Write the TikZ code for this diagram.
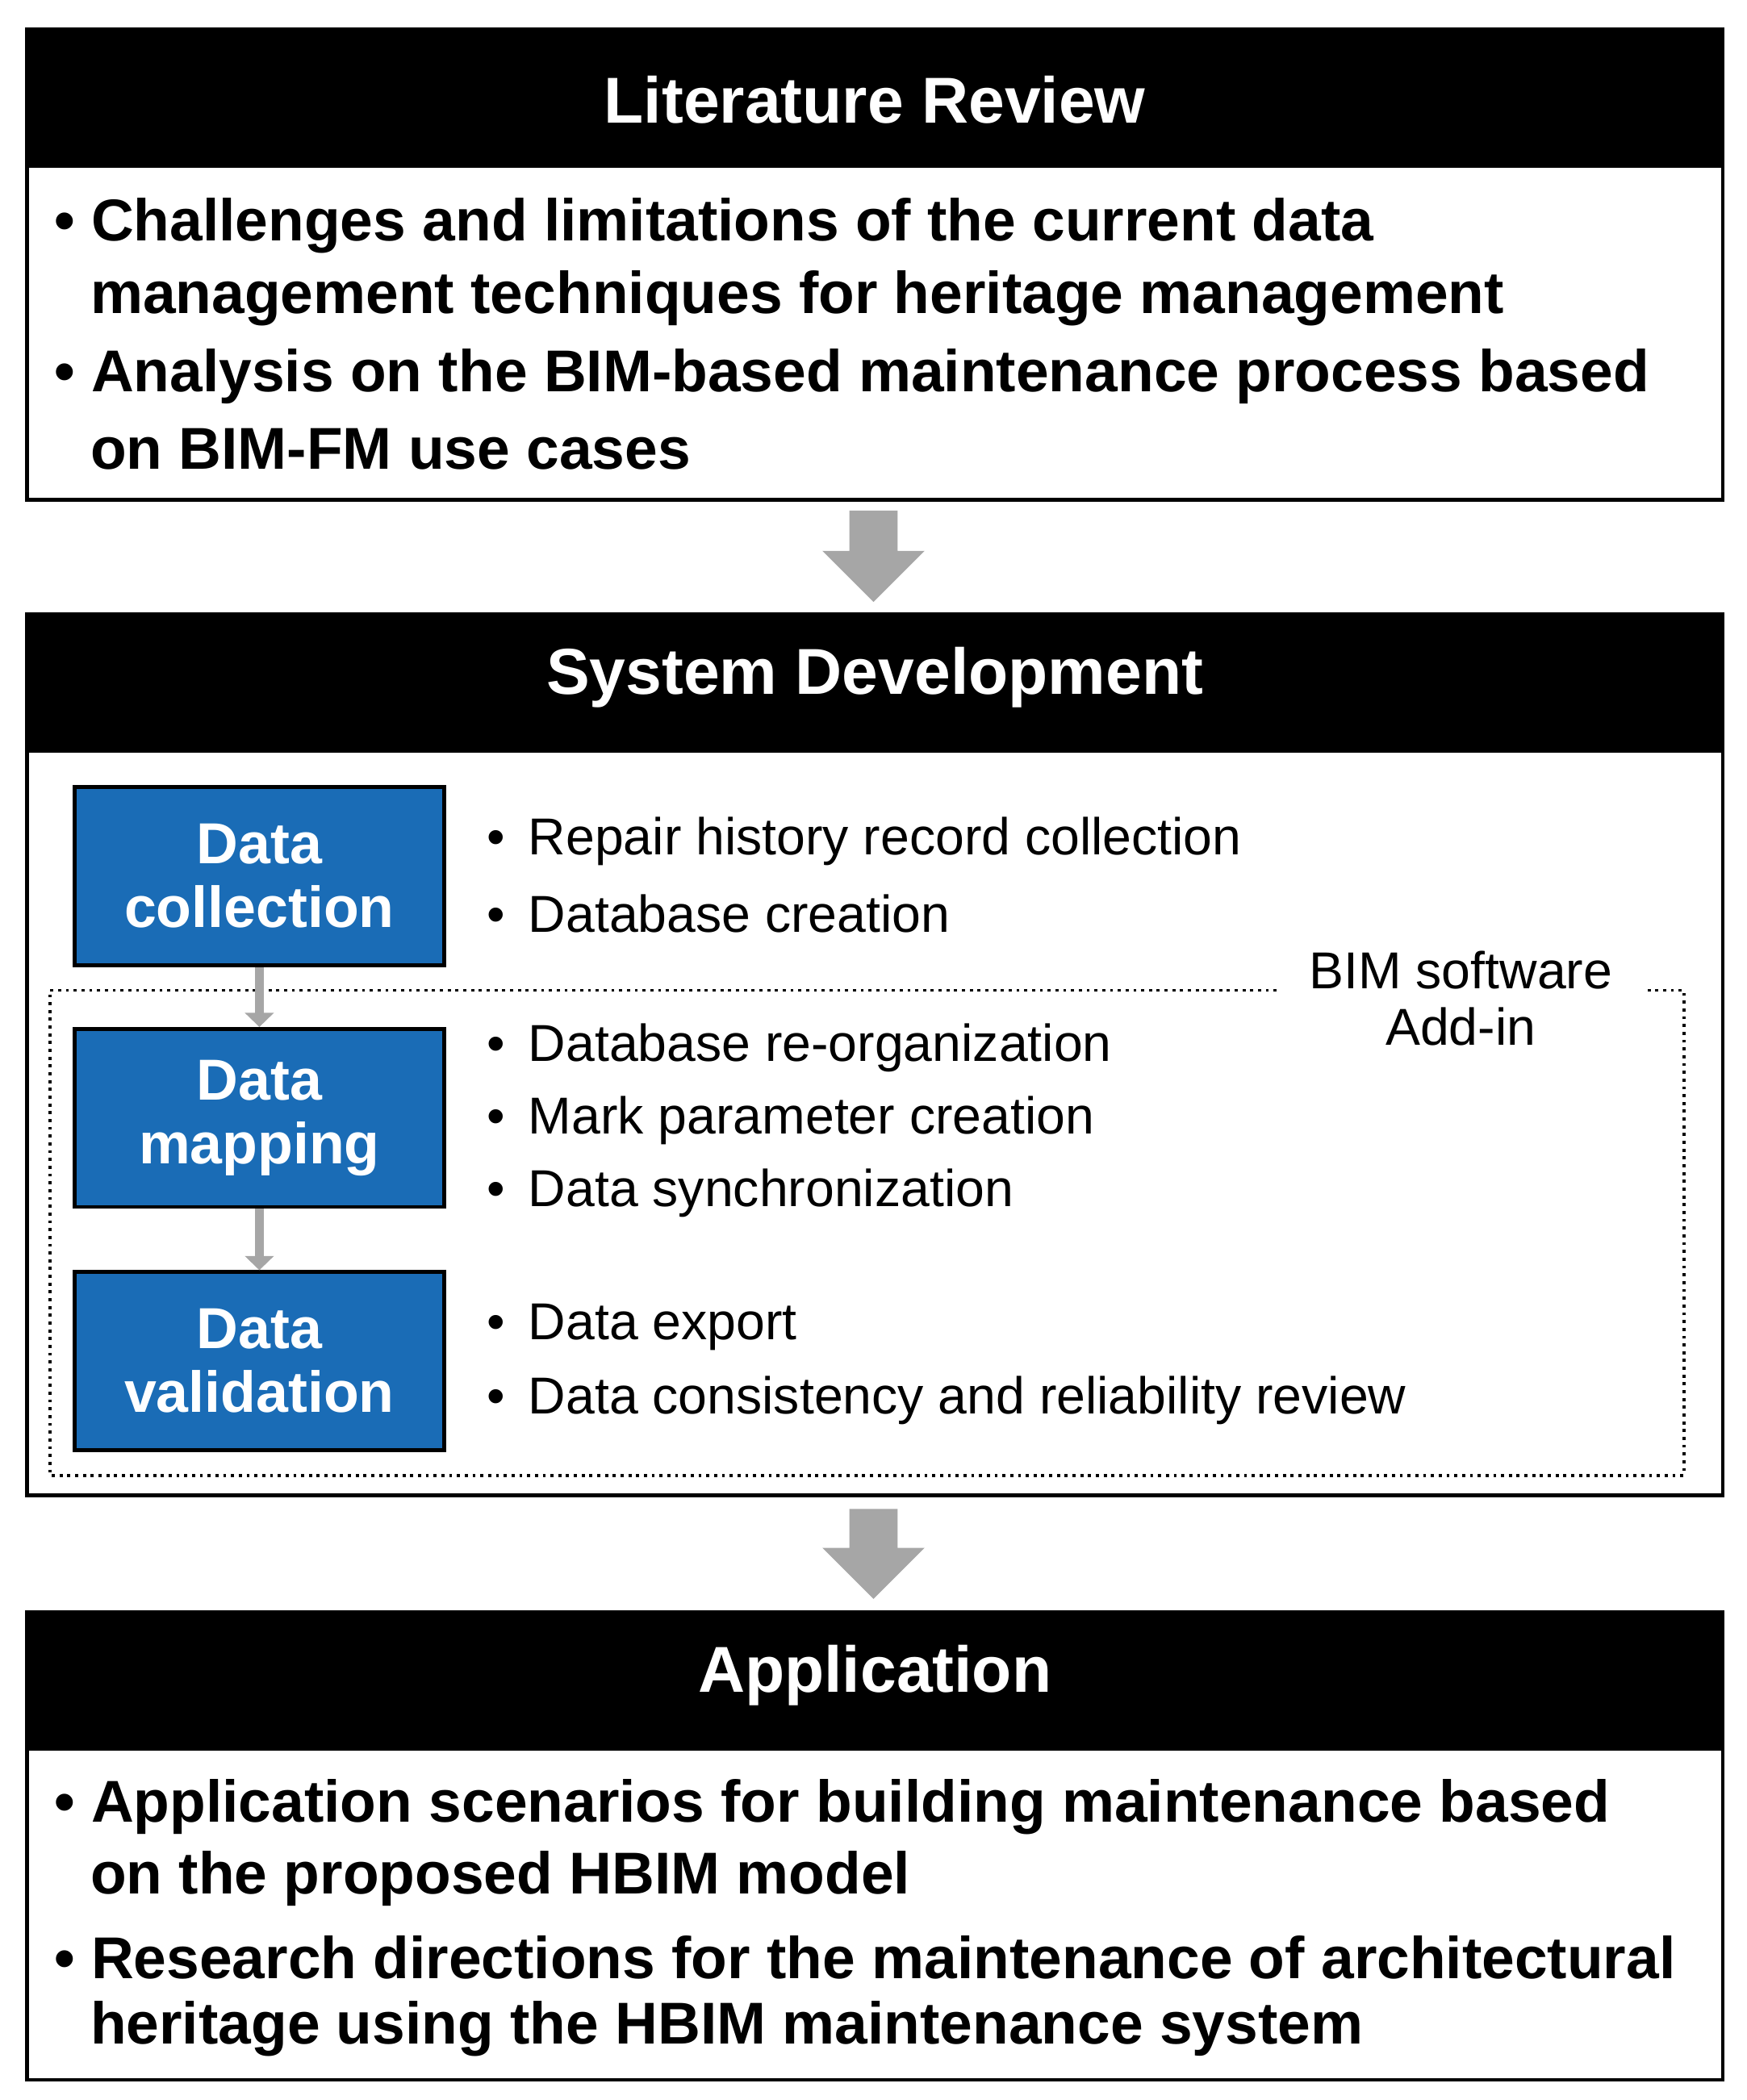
\documentclass[tikz,border=0pt]{standalone}
\usepackage{fontspec}
\setmainfont{Liberation Sans}
\usetikzlibrary{arrows.meta}
\definecolor{bbox}{RGB}{26,108,182}
\begin{document}
\begin{tikzpicture}[x=0.02cm,y=-0.02cm,
  frame/.style={draw=black,line width=1.6pt},
  head/.style={fill=black},
  htxt/.style={text=white,font=\fontsize{27.5}{31}\selectfont\bfseries},
  btxt/.style={anchor=west,inner sep=0pt,font=\fontsize{25}{29}\selectfont\bfseries},
  rtxt/.style={anchor=west,inner sep=0pt,font=\fontsize{22}{25}\selectfont},
  blue/.style={fill=bbox,draw=black,line width=1.6pt,text=white,align=center,inner sep=0pt,
    minimum width=5.5cm,minimum height=2.65cm,font=\fontsize{24.5}{27}\selectfont\bfseries},
  bigarrow/.style={fill=black!35,draw=none},
  small/.style={draw=black!35,line width=3.5pt,-{Triangle[length=6pt,width=12pt]}}]
\useasboundingbox (0,0) rectangle (1300,1563);
% Box 1
\fill[head] (20,22) rectangle (1282,125);
\node[htxt] (h1) at (651,74) {Literature Review};
\draw[frame] (20,22) rectangle (1282,372);
\node[btxt] (l1) at (40,168) {• Challenges and limitations of the current data};
\node[btxt] (l2) at (67,222) {management techniques for heritage management};
\node[btxt] (l3) at (40,280) {• Analysis on the BIM-based maintenance process based};
\node[btxt] (l4) at (67,334) {on BIM-FM use cases};
% arrow 1
\fill[bigarrow] (632,380) -- (668,380) -- (668,410) -- (688,410) -- (650,448) -- (612,410) -- (632,410) -- cycle;
% Box 2
\fill[head] (20,457) rectangle (1282,560);
\node[htxt] (h2) at (651,504) {System Development};
\draw[frame] (20,457) rectangle (1282,1113);
\draw[line width=1.3pt,dotted] (950,737) -- (37,737) -- (37,1098) -- (1253,1098) -- (1253,737) -- (1225,737);
\node[rtxt,anchor=center,align=center] (bim) at (1087,743) {BIM software\\[-1pt]Add-in};
\node[blue] (dc) at (193,652) {Data\\collection};
\node[blue] (dm) at (193,832) {Data\\mapping};
\node[blue] (dv) at (193,1013) {Data\\validation};
\draw[small] (dc) -- (dm);
\draw[small] (dm) -- (dv);
\node[rtxt] (r1) at (362,626) {•\hspace{0.45em}Repair history record collection};
\node[rtxt] (r2) at (362,680) {•\hspace{0.45em}Database creation};
\node[rtxt] (r3) at (362,780) {•\hspace{0.45em}Database re-organization};
\node[rtxt] (r4) at (362,834) {•\hspace{0.45em}Mark parameter creation};
\node[rtxt] (r5) at (362,888) {•\hspace{0.45em}Data synchronization};
\node[rtxt] (r6) at (362,988) {•\hspace{0.45em}Data export};
\node[rtxt] (r7) at (362,1042) {•\hspace{0.45em}Data consistency and reliability review};
% arrow 2
\fill[bigarrow] (632,1123) -- (668,1123) -- (668,1152) -- (688,1152) -- (650,1190) -- (612,1152) -- (632,1152) -- cycle;
% Box 3
\fill[head] (20,1200) rectangle (1282,1303);
\node[htxt] (h3) at (651,1247) {Application};
\draw[frame] (20,1200) rectangle (1282,1548);
\node[btxt] (m1) at (40,1345) {• Application scenarios for building maintenance based};
\node[btxt] (m2) at (67,1398) {on the proposed HBIM model};
\node[btxt] (m3) at (40,1457) {• Research directions for the maintenance of architectural};
\node[btxt] (m4) at (67,1510) {heritage using the HBIM maintenance system};
\end{tikzpicture}
\end{document}
